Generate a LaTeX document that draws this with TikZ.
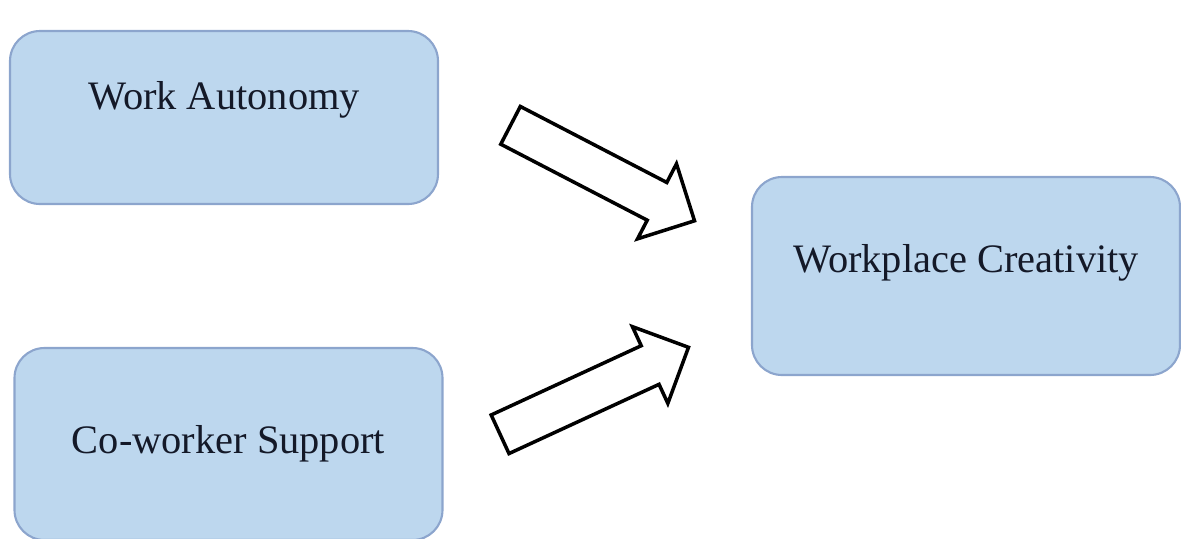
\documentclass[tikz,border=0pt]{standalone}
\usepackage{fontspec}
\setmainfont{Liberation Serif}
\usetikzlibrary{shapes.arrows,calc}
\definecolor{boxfill}{RGB}{189,215,238}
\definecolor{boxline}{RGB}{140,165,205}
\definecolor{textcol}{RGB}{20,25,40}

\begin{document}
\begin{tikzpicture}[x=0.1mm, y=-0.1mm,
  factor/.style={
    draw=boxline,
    line width=0.6pt,
    fill=boxfill,
    rounded corners=3mm,
    minimum width=4.28cm,
    inner sep=0pt,
    text height=3mm,
    text depth=#1,
    text=textcol,
    font=\fontsize{11.5}{14}\selectfont
  },
  blockarrow/.style={
    single arrow,
    draw=black,
    line width=1pt,
    fill=white,
    inner sep=1.95mm,
    single arrow head extend=2.1mm,
    single arrow tip angle=90,
    anchor=tail
  }
]
\useasboundingbox (0,0) rectangle (1181,538);

% -------- Predictors --------
\node[factor=4.7mm, minimum height=17.3mm] (auto) at (224,117.5) {Work Autonomy};
\node[factor=1.2mm, minimum height=19.2mm] (supp) at (228.5,444) {Co-worker Support};

% -------- Outcome --------
\node[factor=3.8mm, minimum height=19.8mm] (crea) at (966,276) {Workplace Creativity};

% -------- Block arrows --------
\coordinate (autoout) at (509,124.5);
\coordinate (creain1) at (693,220);
\coordinate (suppout) at (498.5,435);
\coordinate (creain2) at (687,348);
\foreach \src/\dst in {autoout/creain1, suppout/creain2}
  \path let \p1 = ($(\dst)-(\src)$), \n1 = {atan2(\y1,\x1)}, \n2 = {veclen(\x1,\y1)} in
    node[blockarrow, minimum height=\n2, rotate=\n1] at (\src) {};

\end{tikzpicture}
\end{document}
